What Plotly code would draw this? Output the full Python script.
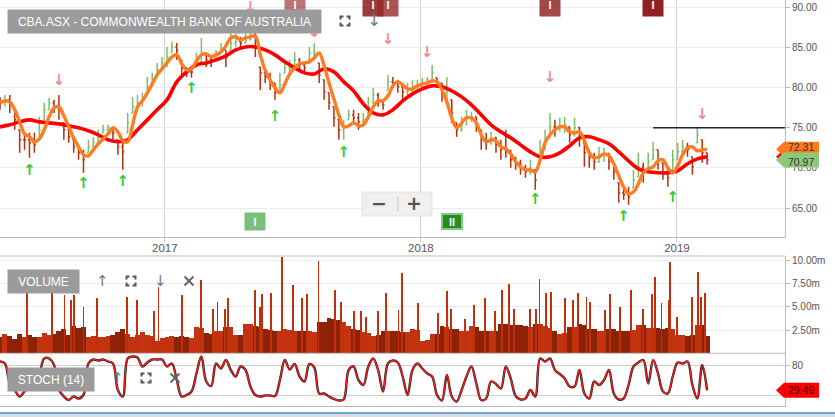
import pandas as pd
import plotly.graph_objects as go

# ---------------- data ----------------
START = "2016-05-11"          # first weekly bar
X_END = "2019-06-04"          # right edge of the time axis
YEAR_TICKS = ["2017-01-01", "2018-01-01", "2019-01-01"]
YEAR_LABELS = ["2017", "2018", "2019"]

# weekly OHLC of CBA.ASX
OPEN = [78.30, 78.10, 78.47, 77.23, 74.74, 73.50, 73.50, 73.12, 73.50, 75.98,
        77.23, 78.10, 77.60, 75.61, 74.74, 73.50, 72.62, 71.88, 71.88, 72.62,
        73.12, 74.37, 74.74, 74.99, 73.50, 72.62, 74.37, 76.85, 77.60, 78.10,
        79.34, 80.09, 81.33, 82.20, 83.07, 84.32, 85.06, 83.45, 82.45, 81.95,
        82.57, 83.20, 84.07, 83.45, 83.45, 84.32, 84.69, 84.69, 85.56, 85.69,
        85.56, 85.93, 86.55, 82.57, 81.83, 81.33, 80.58, 79.34, 81.83, 82.45,
        82.57, 83.45, 82.82, 83.45, 84.32, 83.07, 80.96, 79.34, 77.60, 75.98,
        74.74, 75.98, 76.60, 76.23, 75.73, 76.85, 78.10, 79.09, 78.22, 79.71,
        80.71, 80.58, 80.09, 79.47, 79.71, 80.09, 80.09, 80.58, 80.96, 81.21,
        80.58, 79.34, 78.47, 75.61, 74.74, 75.36, 76.23, 76.36, 74.74, 73.50,
        73.25, 73.74, 72.87, 72.25, 72.00, 71.01, 70.63, 70.01, 69.51, 69.76,
        71.01, 72.25, 73.87, 75.11, 74.99, 75.24, 75.11, 74.12, 74.99, 73.12,
        71.88, 71.26, 70.76, 71.63, 71.63, 70.63, 68.15, 66.90, 66.65, 67.52,
        68.89, 70.14, 69.76, 71.01, 72.25, 70.63, 69.51, 69.76, 71.01, 72.00,
        72.62, 71.38, 73.12, 73.50, 71.88]
HIGH = [78.84, 79.09, 79.09, 77.23, 74.74, 74.37, 74.37, 74.37, 76.36, 78.10,
        78.72, 78.47, 79.09, 75.61, 74.74, 73.50, 72.62, 72.25, 73.50, 73.87,
        74.74, 75.36, 75.36, 75.11, 73.50, 73.12, 76.85, 78.84, 79.09, 79.34,
        81.33, 81.83, 83.07, 83.82, 85.06, 85.69, 85.56, 83.45, 82.57, 82.57,
        84.32, 86.18, 84.32, 83.82, 84.69, 85.56, 84.69, 86.80, 86.80, 86.31,
        86.80, 87.18, 86.80, 82.57, 82.57, 81.83, 80.58, 81.83, 83.07, 83.45,
        84.44, 83.69, 83.20, 85.06, 85.56, 83.07, 80.96, 79.34, 77.60, 75.98,
        75.98, 77.23, 77.23, 76.85, 76.85, 78.84, 79.96, 79.34, 78.47, 81.58,
        81.33, 80.96, 80.34, 80.58, 80.96, 80.96, 81.21, 81.33, 82.82, 81.21,
        80.58, 81.33, 78.47, 75.61, 76.36, 77.23, 76.98, 76.36, 74.74, 74.37,
        74.49, 73.87, 73.50, 74.74, 72.25, 71.38, 71.01, 70.39, 71.01, 69.76,
        73.50, 74.74, 76.85, 75.98, 76.23, 76.36, 75.11, 76.23, 75.11, 73.12,
        72.25, 71.88, 72.62, 72.50, 71.88, 70.63, 68.15, 67.65, 67.65, 69.76,
        71.88, 70.63, 71.88, 73.25, 72.25, 70.63, 69.76, 72.25, 73.12, 73.50,
        73.12, 71.38, 75.11, 73.50, 71.88]
LOW = [77.23, 77.60, 76.85, 74.74, 71.88, 72.25, 71.26, 71.88, 73.50, 75.98,
       77.23, 76.85, 75.98, 73.50, 73.12, 71.88, 71.01, 69.39, 71.88, 72.62,
       73.12, 74.37, 74.49, 73.50, 71.63, 69.76, 74.37, 76.85, 77.23, 77.60,
       79.34, 80.09, 81.33, 82.20, 82.57, 84.32, 83.45, 81.33, 81.33, 81.21,
       82.57, 83.07, 82.57, 82.57, 83.45, 84.32, 82.57, 84.69, 85.06, 85.06,
       85.56, 85.93, 83.82, 79.71, 80.58, 79.71, 78.47, 79.34, 81.83, 81.83,
       82.57, 82.20, 81.83, 83.45, 83.45, 80.58, 78.47, 77.23, 75.11, 73.50,
       73.50, 75.98, 75.61, 74.74, 75.11, 76.85, 78.10, 77.60, 77.23, 79.71,
       79.96, 79.34, 78.47, 78.84, 79.34, 79.47, 79.96, 80.34, 80.71, 79.96,
       78.22, 78.47, 75.61, 73.87, 74.49, 75.36, 75.73, 74.49, 72.25, 72.25,
       72.87, 71.88, 71.01, 71.26, 70.01, 69.76, 69.14, 68.77, 69.14, 67.28,
       71.01, 72.25, 73.87, 73.87, 74.49, 74.37, 73.12, 73.87, 72.62, 70.14,
       70.01, 69.76, 70.63, 70.76, 69.76, 68.52, 65.66, 66.03, 65.41, 67.52,
       68.89, 68.15, 69.76, 71.01, 69.76, 68.52, 67.65, 69.76, 71.01, 71.88,
       71.38, 69.14, 73.12, 70.63, 70.39]
CLOSE = [78.10, 78.47, 78.22, 75.98, 73.50, 73.50, 73.12, 72.87, 74.74, 77.23,
         78.10, 77.60, 77.23, 74.74, 73.87, 72.62, 71.88, 71.01, 72.62, 73.12,
         73.87, 74.74, 74.99, 74.37, 72.62, 72.00, 75.61, 77.60, 78.10, 78.47,
         80.09, 80.96, 82.20, 83.07, 83.82, 85.06, 84.69, 82.45, 81.95, 81.95,
         83.20, 84.07, 83.45, 83.20, 84.07, 84.94, 83.69, 85.56, 85.69, 85.56,
         85.93, 86.55, 84.94, 81.83, 81.33, 80.58, 79.34, 80.34, 82.45, 82.45,
         83.45, 82.82, 82.45, 84.32, 84.44, 81.58, 79.47, 78.10, 76.23, 74.74,
         74.99, 76.60, 76.23, 75.73, 75.98, 77.60, 79.09, 78.22, 77.85, 80.71,
         80.58, 80.09, 79.47, 79.71, 80.09, 80.09, 80.58, 80.96, 81.83, 80.58,
         79.34, 79.96, 76.85, 74.74, 75.36, 76.23, 76.36, 75.36, 73.50, 73.25,
         73.74, 72.87, 72.25, 72.00, 71.01, 70.63, 70.01, 69.51, 70.01, 68.52,
         72.25, 73.50, 75.11, 74.99, 75.24, 75.36, 74.12, 74.99, 73.87, 71.88,
         71.26, 70.76, 71.63, 71.63, 70.76, 69.51, 66.90, 66.65, 66.41, 68.52,
         70.14, 69.39, 70.76, 72.25, 71.01, 69.51, 68.77, 71.01, 72.00, 72.62,
         72.25, 70.14, 74.12, 71.88, 70.97]

# short moving average (orange), weekly samples
MA_FAST = [78.10, 78.35, 78.22, 77.23, 75.73, 74.24, 73.87, 73.25, 73.62, 74.74,
           76.36, 77.48, 77.60, 76.48, 75.11, 73.74, 72.62, 71.63, 71.50, 72.25,
           73.00, 73.62, 74.24, 74.99, 74.49, 73.37, 73.25, 75.36, 77.60, 78.35,
           79.34, 80.46, 81.58, 82.33, 83.07, 83.82, 84.07, 82.95, 82.20, 82.33,
           83.32, 84.07, 84.19, 83.82, 84.07, 84.44, 85.19, 86.18, 86.31, 85.93,
           86.18, 86.31, 86.43, 84.07, 82.20, 80.96, 79.96, 79.34, 80.46, 81.70,
           82.45, 82.95, 83.07, 83.20, 83.69, 84.32, 82.70, 80.58, 78.59, 76.60,
           75.11, 75.24, 75.61, 75.24, 75.36, 76.36, 77.60, 78.35, 78.35, 78.97,
           80.21, 80.71, 80.34, 79.84, 79.84, 80.21, 80.46, 80.58, 80.83, 80.71,
           79.71, 78.22, 76.23, 74.99, 75.61, 76.23, 76.23, 75.61, 74.12, 73.25,
           73.50, 73.37, 72.62, 72.38, 71.75, 70.76, 70.14, 69.76, 69.76, 69.51,
           71.01, 73.12, 74.12, 74.74, 75.11, 75.11, 74.49, 74.37, 74.49, 73.37,
           71.88, 71.26, 71.38, 71.75, 71.50, 70.51, 69.02, 67.65, 66.78, 67.03,
           68.02, 69.39, 69.89, 70.14, 70.88, 71.01, 70.01, 69.39, 70.26, 71.63,
           72.50, 72.62, 72.13, 72.25, 72.31]

# long moving average (red), fortnightly samples
MA_SLOW = [75.11, 75.36, 75.73, 75.98, 75.73, 75.61, 75.48, 75.24, 74.99, 74.62,
           74.12, 73.50, 73.25, 73.50, 74.74, 75.98, 77.23, 78.47, 80.71, 81.95,
           82.82, 83.07, 83.45, 83.94, 84.69, 85.06, 85.06, 84.69, 84.07, 83.20,
           82.45, 81.83, 81.70, 82.33, 81.95, 80.71, 79.59, 77.97, 76.85, 76.60,
           77.23, 78.35, 79.22, 79.84, 80.21, 80.09, 79.59, 78.84, 77.85, 76.60,
           75.36, 74.49, 73.74, 72.87, 72.00, 71.38, 71.38, 71.88, 72.75, 73.74,
           73.87, 73.50, 73.00, 72.00, 70.88, 69.89, 69.51, 69.39, 69.39, 69.64,
           70.51, 71.13, 71.38]

# typical weekly volume (millions)
VOLUME = [1.7, 2.1, 1.9, 1.5, 2.1, 1.8, 2.0, 1.7, 1.8, 2.2,
          2.0, 2.1, 2.4, 2.6, 2.0, 2.9, 2.7, 2.8, 1.8, 1.9,
          1.7, 1.8, 1.9, 2.0, 2.3, 2.6, 2.1, 1.8, 2.0, 2.3,
          2.0, 1.9, 1.3, 1.6, 1.7, 1.9, 1.8, 1.9, 1.7, 1.6,
          2.8, 2.7, 2.2, 2.1, 2.4, 2.4, 2.8, 2.8, 2.0, 2.0,
          3.2, 3.1, 2.9, 2.8, 2.6, 2.5, 2.4, 2.4, 2.6, 2.5,
          2.4, 2.4, 2.4, 2.4, 2.3, 3.4, 3.4, 3.8, 3.7, 3.6,
          3.4, 2.9, 2.6, 2.5, 2.3, 2.2, 1.9, 2.0, 2.4, 2.4,
          2.4, 2.4, 2.3, 2.3, 2.6, 2.5, 1.3, 1.4, 2.1, 2.1,
          2.9, 2.8, 2.6, 2.6, 2.4, 2.4, 2.9, 2.8, 2.4, 2.4,
          2.4, 2.4, 3.2, 3.2, 3.0, 3.0, 3.0, 2.9, 2.8, 3.2,
          3.2, 2.9, 2.7, 2.4, 2.1, 2.2, 2.8, 2.8, 3.1, 3.0,
          2.6, 2.6, 2.4, 2.4, 2.6, 2.6, 2.4, 2.4, 2.4, 2.5,
          3.0, 3.0, 2.7, 2.7, 2.7, 2.6, 2.7, 2.6, 2.0, 2.0,
          1.9, 2.0, 3.0, 3.0, 1.9]

# single heavy-volume sessions: days after START and volume (millions)
SPIKE_DAY = [38, 74, 92, 101, 105, 119, 138, 181, 195, 219,
             226, 259, 287, 304, 310, 321, 325, 364, 371, 374,
             386, 402, 418, 430, 438, 454, 478, 486, 505, 514,
             522, 539, 550, 568, 573, 596, 625, 637, 643, 663,
             676, 691, 706, 715, 726, 733, 756, 764, 769, 778,
             785, 805, 817, 824, 836, 841, 862, 870, 884, 899,
             916, 929, 934, 943, 953, 955, 965, 986, 995, 999, 1005]
SPIKE_VOL = [6.6, 6.6, 6.25, 5.7, 6.3, 5.0, 5.9, 6.1, 5.7, 4.6,
             7.1, 6.25, 7.9, 4.8, 5.5, 4.8, 5.9, 6.8, 5.0, 6.4,
             6.5, 10.4, 7.3, 5.9, 6.4, 9.9, 6.8, 5.5, 4.5, 4.5,
             3.9, 4.5, 6.5, 4.7, 8.6, 5.4, 4.3, 6.7, 4.8, 3.7,
             5.2, 5.9, 4.5, 6.8, 7.4, 4.8, 4.8, 4.8, 8.0, 6.5,
             6.6, 5.9, 5.7, 6.5, 6.1, 5.5, 4.7, 6.4, 5.0, 6.8,
             4.8, 6.4, 8.2, 5.4, 5.7, 9.8, 3.9, 6.1, 8.75, 6.1, 6.5]

# stochastic (14), weekly samples
STOCH = [87, 83, 43, 30, 17, 27, 37, 30, 57, 93,
         93, 80, 30, 17, 10, 17, 13, 20, 83, 91,
         89, 91, 87, 83, 30, 17, 93, 97, 95, 77,
         85, 91, 91, 91, 77, 83, 50, 17, 20, 27,
         63, 97, 47, 38, 83, 73, 90, 70, 57, 77,
         70, 37, 20, 17, 19, 19, 18, 50, 90, 71,
         82, 57, 47, 82, 75, 23, 23, 17, 12, 9,
         11, 70, 77, 50, 40, 77, 93, 70, 27, 83,
         89, 85, 57, 20, 70, 83, 73, 63, 57, 20,
         9, 60, 17, 7, 30, 57, 77, 43, 10, 13,
         47, 42, 33, 77, 53, 18, 11, 13, 30, 17,
         93, 87, 93, 70, 62, 53, 37, 37, 70, 23,
         13, 47, 40, 50, 70, 23, 11, 13, 40, 77,
         85, 90, 43, 90, 63, 27, 23, 57, 85, 83,
         87, 40, 13, 80, 29.49]

# signals (week index, price level of the arrow)
BUY_WEEK = [6, 17, 25, 39, 56, 70, 109, 127, 137]
BUY_LEVEL = [69.64, 68.02, 68.27, 79.84, 76.36, 71.88, 66.03, 63.92, 66.28]
SELL_WEEK = [12, 51, 64, 79, 87, 112, 143]
SELL_LEVEL = [80.83, 89.91, 86.80, 85.93, 84.32, 81.21, 76.60]

# event flags (week index, label)
TOP_EVENT_WEEK = [60, 76, 79, 112, 133]
TOP_EVENT_TEXT = ["I", "I", "I", "I", "I"]
BOTTOM_EVENT_WEEK = [52, 92]
BOTTOM_EVENT_TEXT = ["I", "II"]

HLINE_WEEK = 133
HLINE_LEVEL = 75.0

PRICE_TICKS = [65, 70, 75, 80, 85, 90]
VOL_TICKS = [2.5, 5.0, 7.5, 10.0]
VOL_TICK_TEXT = ["2.50m", "5.00m", "7.50m", "10.00m"]
STOCH_TICKS = [20, 80]
STOCH_TICK_TEXT = ["", "80"]   # the 20 label sits under the value tag

# ---------------- figure ----------------
DATES = pd.date_range(START, periods=len(CLOSE), freq="7D")
FAST_DATES = pd.date_range(START, periods=len(MA_FAST), freq="7D")
SLOW_DATES = pd.date_range(START, periods=len(MA_SLOW), freq="14D")
VOL_DATES = pd.date_range(START, periods=len(VOLUME), freq="7D")
STOCH_DATES = pd.date_range(START, periods=len(STOCH), freq="7D")
SPIKE_DATES = pd.Timestamp(START) + pd.to_timedelta(SPIKE_DAY, unit="D")

FONT = "Liberation Sans, Arial, sans-serif"
PW, PH = 785.0, 407.0


def fx(p):
    return p / PW


def fy(p):
    return (PH - p) / PH


GREEN_BAR = "#7fbf69"
RED_BAR = "#b5300d"

fig = go.Figure()

fig.add_trace(go.Ohlc(
    x=DATES, open=OPEN, high=HIGH, low=LOW, close=CLOSE,
    increasing=dict(line=dict(color=GREEN_BAR, width=1.5)),
    decreasing=dict(line=dict(color=RED_BAR, width=1.5)),
    tickwidth=0.3, hoverinfo="skip", xaxis="x", yaxis="y"))

fig.add_trace(go.Scatter(x=SLOW_DATES, y=MA_SLOW, mode="lines",
                         line=dict(color="#ff0000", width=3.6, shape="spline"),
                         hoverinfo="skip", xaxis="x", yaxis="y"))
fig.add_trace(go.Scatter(x=FAST_DATES, y=MA_FAST, mode="lines",
                         line=dict(color="#ff7b24", width=3.4, shape="spline"),
                         hoverinfo="skip", xaxis="x", yaxis="y"))

fig.add_trace(go.Scatter(x=[DATES[i] for i in BUY_WEEK], y=BUY_LEVEL, mode="text",
                         text=["<b>↑</b>"] * len(BUY_WEEK),
                         textfont=dict(color="#33cc33", size=15, family="DejaVu Sans"),
                         hoverinfo="skip", xaxis="x", yaxis="y"))
fig.add_trace(go.Scatter(x=[DATES[i] for i in SELL_WEEK], y=SELL_LEVEL, mode="text",
                         text=["<b>↓</b>"] * len(SELL_WEEK),
                         textfont=dict(color="#f08c8c", size=15, family="DejaVu Sans"),
                         hoverinfo="skip", xaxis="x", yaxis="y"))

vol_colors = ["#c4330f" if c >= o else "#8e2207" for o, c in zip(OPEN, CLOSE)]
fig.add_trace(go.Bar(x=VOL_DATES, y=VOLUME, marker=dict(color=vol_colors, line=dict(width=0)),
                     width=7 * 86400000, hoverinfo="skip", xaxis="x2", yaxis="y2"))
fig.add_trace(go.Bar(x=SPIKE_DATES, y=SPIKE_VOL, marker=dict(color="#c0300c", line=dict(width=0)),
                     width=1.3 * 86400000, hoverinfo="skip", xaxis="x2", yaxis="y2"))

fig.add_trace(go.Scatter(x=STOCH_DATES, y=STOCH, mode="lines",
                         line=dict(color="#222222", width=2.4, shape="spline"),
                         hoverinfo="skip", xaxis="x3", yaxis="y3"))
fig.add_trace(go.Scatter(x=STOCH_DATES, y=STOCH, mode="lines",
                         line=dict(color="#ff1a1a", width=1.3, shape="spline"),
                         hoverinfo="skip", xaxis="x3", yaxis="y3"))

axis_common = dict(showline=True, linecolor="#bbbbbb", linewidth=1, ticks="outside",
                   ticklen=4, tickcolor="#bbbbbb", zeroline=False,
                   tickfont=dict(family=FONT, size=10, color="#555555"))

fig.update_layout(
    width=835, height=417,
    margin=dict(l=0, r=50, t=0, b=10),
    paper_bgcolor="white", plot_bgcolor="white",
    showlegend=False, barmode="overlay", bargap=0,
    font=dict(family=FONT),
    xaxis=dict(domain=[0, 1], anchor="y", type="date", range=[START, X_END],
               tickvals=YEAR_TICKS, ticktext=YEAR_LABELS,
               showgrid=True, gridcolor="#d2d2d2", gridwidth=1,
               showline=True, linecolor="#bbbbbb", ticks="outside", ticklen=4,
               tickcolor="#cccccc", zeroline=False, ticklabelstandoff=-4,
               tickfont=dict(family=FONT, size=11.5, color="#555555"),
               rangeslider=dict(visible=False)),
    xaxis2=dict(matches="x", anchor="y2", showticklabels=False, showgrid=False,
                showline=False, zeroline=False, ticks=""),
    xaxis3=dict(matches="x", anchor="y3", showticklabels=False, showgrid=False,
                showline=False, zeroline=False, ticks=""),
    yaxis=dict(domain=[fy(237), 1], anchor="x", side="right", range=[61.4, 90.9],
               tickvals=PRICE_TICKS, tickformat=".2f", showgrid=True,
               gridcolor="#ececec", **axis_common),
    yaxis2=dict(domain=[fy(353.3), fy(256)], anchor="x2", side="right", range=[0, 10.46],
                tickvals=VOL_TICKS, ticktext=VOL_TICK_TEXT, showgrid=True,
                gridcolor="#ececec", **axis_common),
    yaxis3=dict(domain=[0, fy(353.3)], anchor="x3", side="right", range=[-4, 103.4],
                tickvals=STOCH_TICKS, ticktext=STOCH_TICK_TEXT, showgrid=True,
                gridcolor="#cfcfcf", **axis_common),
)

shapes = []
ann = []

# panel borders
for yy in (256, 353.3, 406.5):
    shapes.append(dict(type="line", xref="paper", yref="paper", x0=0, x1=1,
                       y0=fy(yy), y1=fy(yy), line=dict(color="#bbbbbb", width=1)))

# user drawn horizontal line
shapes.append(dict(type="line", xref="x", yref="y", x0=DATES[HLINE_WEEK], x1=X_END,
                   y0=HLINE_LEVEL, y1=HLINE_LEVEL, line=dict(color="#222222", width=1.5)))

# zoom widget
shapes.append(dict(type="rect", xref="paper", yref="paper", x0=fx(362), x1=fx(432),
                   y0=fy(216), y1=fy(192), fillcolor="#efefef",
                   line=dict(color="#e2e2e2", width=1)))
shapes.append(dict(type="line", xref="paper", yref="paper", x0=fx(398), x1=fx(398),
                   y0=fy(211), y1=fy(197), line=dict(color="#c4c4c4", width=1)))


def glyph(cx, cy, t, size=15, color="#777777"):
    ann.append(dict(x=fx(cx), y=fy(cy), xref="paper", yref="paper", text=t,
                    xanchor="center", yanchor="middle",
                    showarrow=False, font=dict(size=size, color=color, family="DejaVu Sans")))


glyph(379, 203, "<b>−</b>", size=19, color="#555555")
glyph(414, 203, "<b>+</b>", size=19, color="#555555")


def corners(cx, cy, half=4.5, arm=3.0, color="#555555"):
    pts = []
    for sx in (-1, 1):
        for sy in (-1, 1):
            x0, y0 = cx + sx * half, cy + sy * half
            pts.append("M{},{} L{},{} L{},{}".format(
                fx(x0 - sx * arm), fy(y0), fx(x0), fy(y0), fx(x0), fy(y0 - sy * arm)))
    shapes.append(dict(type="path", xref="paper", yref="paper", path=" ".join(pts),
                       line=dict(color=color, width=2)))


def cross(cx, cy, half=4.5, color="#666666"):
    for d in (1, -1):
        shapes.append(dict(type="line", xref="paper", yref="paper",
                           x0=fx(cx - half), x1=fx(cx + half),
                           y0=fy(cy - d * half), y1=fy(cy + d * half),
                           line=dict(color=color, width=2)))


def label_box(x0, cy, w, text):
    ann.append(dict(x=fx(x0), y=fy(cy), xref="paper", yref="paper", xanchor="left",
                    yanchor="middle", text=text, showarrow=False, bgcolor="#9b9b9b",
                    width=w - 8, height=15, borderpad=4, align="center",
                    font=dict(size=12, color="white", family=FONT)))


# event flags
top_colors = ["rgba(150,40,40,0.65)", "rgba(139,26,26,0.85)", "rgba(150,40,40,0.8)",
              "rgba(139,26,26,0.8)", "rgba(139,20,20,0.95)"]
for w, t, c in zip(TOP_EVENT_WEEK, TOP_EVENT_TEXT, top_colors):
    ann.append(dict(x=DATES[w], y=fy(5), xref="x", yref="paper", text="<b>" + t + "</b>",
                    xanchor="center", yanchor="middle",
                    showarrow=False, bgcolor=c, width=16, height=18, borderpad=2,
                    font=dict(size=11, color="white", family=FONT)))
bottom_style = [("#7cbf7c", None, 0), ("#268c26", "#7ccc7c", 2)]
for w, t, (bg, bc, bw) in zip(BOTTOM_EVENT_WEEK, BOTTOM_EVENT_TEXT, bottom_style):
    a = dict(x=DATES[w], y=fy(222), xref="x", yref="paper", text="<b>" + t + "</b>",
             xanchor="center", yanchor="middle",
             showarrow=False, bgcolor=bg, width=16 if bw == 0 else 18, height=13, borderpad=2,
             font=dict(size=11, color="white", family=FONT))
    if bc:
        a.update(bordercolor=bc, borderwidth=bw, borderpad=0)
    ann.append(a)

# panel titles and icons
label_box(7, 21, 313, "CBA.ASX - COMMONWEALTH BANK OF AUSTRALIA")
corners(345, 21)
glyph(374, 20, "↓", size=17)
label_box(7, 281, 71, "VOLUME")
glyph(102, 281, "↑", size=15)
corners(131, 281)
glyph(160, 281, "↓", size=15)
cross(189, 281)
label_box(7, 379, 86, "STOCH (14)")
glyph(117, 378, "↑", size=15)
corners(146, 378)
cross(175, 378)


# last-value tags on the right
def tag(value, yref, half, color, text_color=None, shift=0):
    shapes.append(dict(type="path", xref="paper", yref=yref, fillcolor=color,
                       line=dict(width=0),
                       path="M{},{} L{},{} L{},{} L{},{} L{},{} Z".format(
                           fx(776), value, fx(784), value + half, fx(819), value + half,
                           fx(819), value - half, fx(784), value - half)))
    if text_color:
        ann.append(dict(x=fx(801), y=value, xref="paper", yref=yref,
                        xanchor="center", yanchor="middle",
                        text="{:.2f}".format(value), yshift=shift,
                        showarrow=False, font=dict(size=10.5, color=text_color, family=FONT)))


tag(MA_SLOW[-1], "y", 7.5 / 8.04, "#ff0000")
tag(MA_FAST[-1], "y", 7.5 / 8.04, "#ff7a1f", "#333333", shift=2.5)
tag(CLOSE[-1], "y", 7.5 / 8.04, "#8ec97b", "#333333", shift=-2)
tag(STOCH[-1], "y3", 15.0, "#ff0000", "#4a0000")

# page bottom strip
shapes.append(dict(type="rect", xref="paper", yref="paper", x0=-0.01, x1=835 / PW,
                   y0=fy(418), y1=fy(413.5), fillcolor="#dcdcdc", line=dict(width=0)))
shapes.append(dict(type="line", xref="paper", yref="paper", x0=-0.01, x1=835 / PW,
                   y0=fy(413), y1=fy(413), line=dict(color="#3b8ad8", width=1.5)))

fig.update_layout(shapes=shapes, annotations=ann)
fig.write_html("out.html", config={"displayModeBar": False},
               post_script="document.body.style.margin='0px';")
